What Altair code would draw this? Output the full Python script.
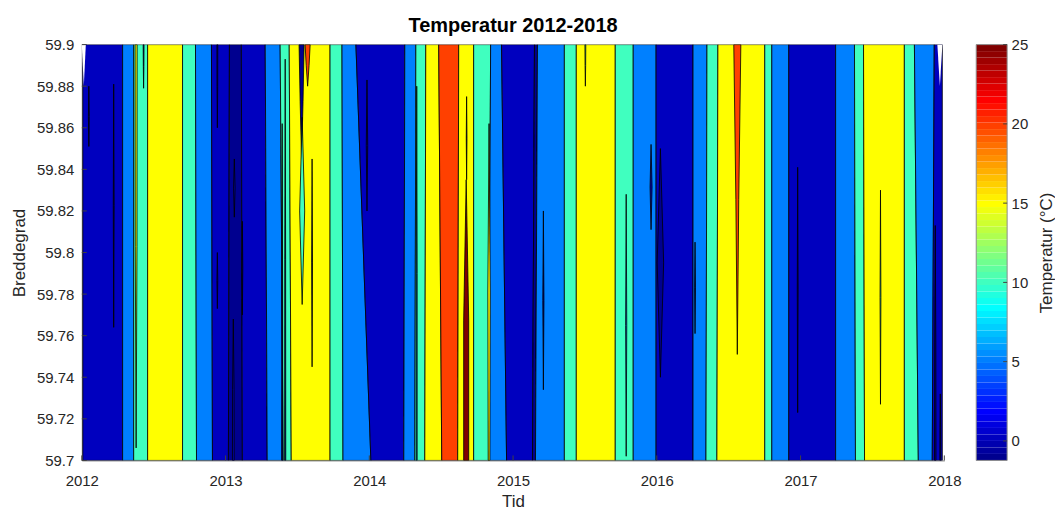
import altair as alt
import pandas as pd
import numpy as np

# ---- data (time in decimal years, latitude in degrees) ----
level_codes = ["N", "B", "L", "A", "Y", "R", "D", "W"]
level_colors = ["#00008F", "#0000BF", "#0080FF", "#40FFBF", "#FFFF00", "#FF4000", "#800000", "#FFFFFF"]

LAT_TOP = 59.9
LAT_BOT = 59.7

# full-height contour bands: level and left boundary at top / bottom
band_level = ["B", "L", "A", "Y", "A", "L", "B", "N", "B", "L", "A", "Y", "A", "L", "B",
              "L", "A", "Y", "R", "Y", "A", "L", "B", "N", "L", "A", "Y", "A", "L", "B",
              "L", "A", "Y", "A", "L", "B", "L", "A", "Y", "A", "L", "B"]
band_left_top = [2012.007, 2012.284, 2012.361, 2012.458, 2012.701, 2012.791, 2012.902, 2013.027,
                 2013.110, 2013.276, 2013.380, 2013.443, 2013.727, 2013.810, 2013.907, 2014.247,
                 2014.324, 2014.393, 2014.483, 2014.622, 2014.726, 2014.844, 2014.920, 2015.149,
                 2015.170, 2015.357, 2015.440, 2015.711, 2015.836, 2015.995, 2016.252, 2016.349,
                 2016.425, 2016.751, 2016.800, 2016.918, 2017.244, 2017.375, 2017.438, 2017.722,
                 2017.792, 2017.930]
band_left_bot = [2012.007, 2012.284, 2012.361, 2012.458, 2012.701, 2012.798, 2012.909, 2013.020,
                 2013.117, 2013.290, 2013.401, 2013.457, 2013.727, 2013.817, 2014.011, 2014.240,
                 2014.317, 2014.386, 2014.504, 2014.615, 2014.726, 2014.830, 2014.955, 2015.135,
                 2015.156, 2015.357, 2015.440, 2015.711, 2015.836, 2015.995, 2016.252, 2016.342,
                 2016.418, 2016.751, 2016.800, 2016.918, 2017.244, 2017.382, 2017.445, 2017.722,
                 2017.819, 2017.916]
data_end_top = 2017.986
data_end_bot = 2017.986

# small closed contours (lenses / spikes)
lens_level = ["Y", "N", "N", "N", "N", "N", "B", "N", "B", "N", "N", "N", "R", "A", "N",
              "N", "L", "D", "N", "Y", "N", "A", "L", "B", "N", "N", "R", "N", "A", "N", "N"]
lens_center = [2012.378, 2012.049, 2012.222, 2012.430, 2012.943, 2012.943, 2013.061, 2013.117,
               2013.054, 2013.394, 2013.415, 2013.529, 2013.571, 2013.533, 2013.602, 2013.984,
               2014.330, 2014.674, 2014.677, 2014.833, 2015.211, 2015.503, 2015.787, 2015.960,
               2016.025, 2016.266, 2016.560, 2016.980, 2017.556, 2017.937, 2017.972]
lens_lat_top = [59.900, 59.880, 59.881, 59.900, 59.900, 59.800, 59.845, 59.815, 59.768, 59.862,
                59.893, 59.900, 59.900, 59.865, 59.845, 59.883, 59.880, 59.835, 59.875, 59.862,
                59.820, 59.900, 59.828, 59.852, 59.850, 59.805, 59.900, 59.841, 59.830, 59.813,
                59.732]
lens_lat_bot = [59.706, 59.851, 59.764, 59.879, 59.860, 59.773, 59.817, 59.770, 59.700, 59.700,
                59.700, 59.845, 59.880, 59.775, 59.745, 59.820, 59.700, 59.700, 59.835, 59.700,
                59.734, 59.880, 59.702, 59.811, 59.740, 59.761, 59.751, 59.723, 59.727, 59.700,
                59.700]
lens_w_top = [0.014, 0, 0, 0.006, 0.006, 0, 0, 0, 0, 0, 0, 0.035, 0.035, 0, 0, 0, 0, 0, 0, 0,
              0, 0.006, 0, 0, 0, 0, 0.049, 0, 0, 0, 0]
lens_w_mid = [0.012, 0.006, 0.006, 0.004, 0.005, 0.006, 0.010, 0.006, 0.010, 0.006, 0.006, 0.020,
              0.020, 0.035, 0.006, 0.010, 0.006, 0.035, 0.005, 0.017, 0.008, 0.004, 0.008, 0.014,
              0.045, 0.006, 0.020, 0.006, 0.006, 0.008, 0.005]
lens_w_bot = [0, 0, 0, 0, 0, 0, 0, 0, 0.012, 0.008, 0.008, 0, 0, 0, 0, 0, 0.006, 0.035, 0, 0.012,
              0, 0, 0, 0, 0, 0, 0, 0, 0, 0.010, 0.006]

# blank (no data) corners
blank_center = [2012.014, 2017.969]
blank_lat_bot = [59.880, 59.880]
blank_w_top = [0.028, 0.035]

x_ticks = [2012, 2013, 2014, 2015, 2016, 2017, 2018]
y_ticks = [59.7, 59.72, 59.74, 59.76, 59.78, 59.8, 59.82, 59.84, 59.86, 59.88, 59.9]
cbar_ticks = [0, 5, 10, 15, 20, 25]
cbar_min, cbar_max = -1.23, 25.0

# ---- build tables ----
rows = []
n = len(band_level)
for i in range(n):
    rt = band_left_top[i + 1] if i + 1 < n else data_end_top
    rb = band_left_bot[i + 1] if i + 1 < n else data_end_bot
    rows.append(dict(pid=f"b{i:02d}", level=band_level[i], lat=LAT_TOP, xl=band_left_top[i], xr=rt))
    rows.append(dict(pid=f"b{i:02d}", level=band_level[i], lat=LAT_BOT, xl=band_left_bot[i], xr=rb))
bands = pd.DataFrame(rows)

rows = []
for i in range(len(lens_level)):
    c = lens_center[i]
    lt, lb = lens_lat_top[i], lens_lat_bot[i]
    lm = (lt + lb) / 2
    for lat, w in [(lt, lens_w_top[i]), (lm, lens_w_mid[i]), (lb, lens_w_bot[i])]:
        rows.append(dict(pid=f"l{i:02d}", level=lens_level[i], lat=lat, xl=c - w / 2, xr=c + w / 2))
lenses = pd.DataFrame(rows)

rows = []
for i in range(len(blank_center)):
    c = blank_center[i]
    rows.append(dict(pid=f"w{i}", level="W", lat=LAT_TOP, xl=c - blank_w_top[i] / 2, xr=c + blank_w_top[i] / 2))
    rows.append(dict(pid=f"w{i}", level="W", lat=blank_lat_bot[i], xl=c, xr=c))
blanks = pd.DataFrame(rows)

FONT = "Liberation Sans"
TXT = "#262626"
TICK = "#404040"

xscale = alt.Scale(domain=[2012, 2018], nice=False, zero=False)
yscale = alt.Scale(domain=[LAT_BOT, LAT_TOP], nice=False, zero=False)
cscale = alt.Scale(domain=level_codes, range=level_colors)

xaxis = alt.Axis(values=x_ticks, format="d", title="Tid", grid=False, ticks=False,
                 labelFontSize=15, titleFontSize=17, labelFont=FONT, titleFont=FONT,
                 labelColor=TXT, titleColor=TXT, titleFontWeight="normal",
                 domainColor="#7f7f7f", labelPadding=13, titlePadding=5, labelFlush=False)
yaxis = alt.Axis(values=y_ticks, format=".2~f", title="Breddegrad", grid=False, ticks=False,
                 labelFontSize=15, titleFontSize=17, labelFont=FONT, titleFont=FONT,
                 labelColor=TXT, titleColor=TXT, titleFontWeight="normal",
                 domainColor="#7f7f7f", labelPadding=8, titlePadding=8, labelFlush=False)

def area_layer(df, stroke=True):
    kw = dict(orient="horizontal", opacity=1, clip=True)
    if stroke:
        kw.update(stroke="black", strokeWidth=0.8)
    return alt.Chart(df).mark_area(**kw).encode(
        x=alt.X("xl:Q", scale=xscale, axis=xaxis),
        x2="xr:Q",
        y=alt.Y("lat:Q", scale=yscale, axis=yaxis),
        detail="pid:N",
        color=alt.Color("level:N", scale=cscale, legend=None))

# inward tick marks (MATLAB style)
yt = alt.Chart(pd.DataFrame({"t": y_ticks})).mark_rule(color=TICK, strokeWidth=1).encode(
    y=alt.Y("t:Q", scale=yscale, axis=yaxis), x=alt.value(0), x2=alt.value(5))
xt = alt.Chart(pd.DataFrame({"t": x_ticks})).mark_rule(color=TICK, strokeWidth=1).encode(
    x=alt.X("t:Q", scale=xscale, axis=xaxis), y=alt.value(412), y2=alt.value(417))

main = alt.layer(
    area_layer(bands),
    area_layer(lenses),
    area_layer(blanks, stroke=False),
    yt, xt,
).properties(
    width=865, height=417,
    title=alt.TitleParams("Temperatur 2012-2018", fontSize=20, fontWeight="bold",
                          font=FONT, color="black", anchor="middle", offset=2),
)

# ---- colour bar (MATLAB jet, 64 steps) ----
def jet_hex(m):
    out = []
    for k in range(1, m + 1):
        t = k / m
        r = min(max(min(4 * t - 1.5, -4 * t + 4.5), 0), 1)
        g = min(max(min(4 * t - 0.5, -4 * t + 3.5), 0), 1)
        b = min(max(min(4 * t + 0.5, -4 * t + 2.5), 0), 1)
        out.append("#%02x%02x%02x" % (round(r * 255), round(g * 255), round(b * 255)))
    return out

jet = jet_hex(64)
edges = np.linspace(cbar_min, cbar_max, 65)
cb = pd.DataFrame({"idx": list(range(64)), "lo": edges[:-1], "hi": edges[1:]})
cb_frame = pd.DataFrame({"lo": [cbar_min], "hi": [cbar_max]})

cyscale = alt.Scale(domain=[cbar_min, cbar_max], nice=False, zero=False)
cyaxis = alt.Axis(values=cbar_ticks, orient="right", title="Temperatur (°C)", grid=False,
                  ticks=False, domain=False, labelFontSize=15, titleFontSize=17,
                  labelFont=FONT, titleFont=FONT, labelColor=TXT, titleColor=TXT,
                  titleFontWeight="normal", labelPadding=4, titlePadding=11, titleAngle=270,
                  titleBaseline="top", labelFlush=False)

cbar = alt.layer(
    alt.Chart(cb).mark_rect().encode(
        y=alt.Y("lo:Q", scale=cyscale, axis=cyaxis), y2="hi:Q",
        color=alt.Color("idx:O", scale=alt.Scale(domain=list(range(64)), range=jet), legend=None)),
    alt.Chart(cb_frame).mark_rect(filled=False, stroke="#8c8c8c", strokeWidth=1).encode(
        y=alt.Y("lo:Q", scale=cyscale, axis=cyaxis), y2="hi:Q"),
    alt.Chart(pd.DataFrame({"t": cbar_ticks})).mark_rule(color=TICK, strokeWidth=1).encode(
        y=alt.Y("t:Q", scale=cyscale, axis=cyaxis), x=alt.value(27), x2=alt.value(31)),
).properties(width=31, height=417)

chart = alt.hconcat(main, cbar, spacing=32, bounds="flush").resolve_scale(
    color="independent", x="independent", y="independent"
).properties(padding={"left": 2, "top": 7, "right": 0, "bottom": 0}).configure_view(stroke=None)

chart.save("out.html", embed_options={"renderer": "svg", "actions": False})
